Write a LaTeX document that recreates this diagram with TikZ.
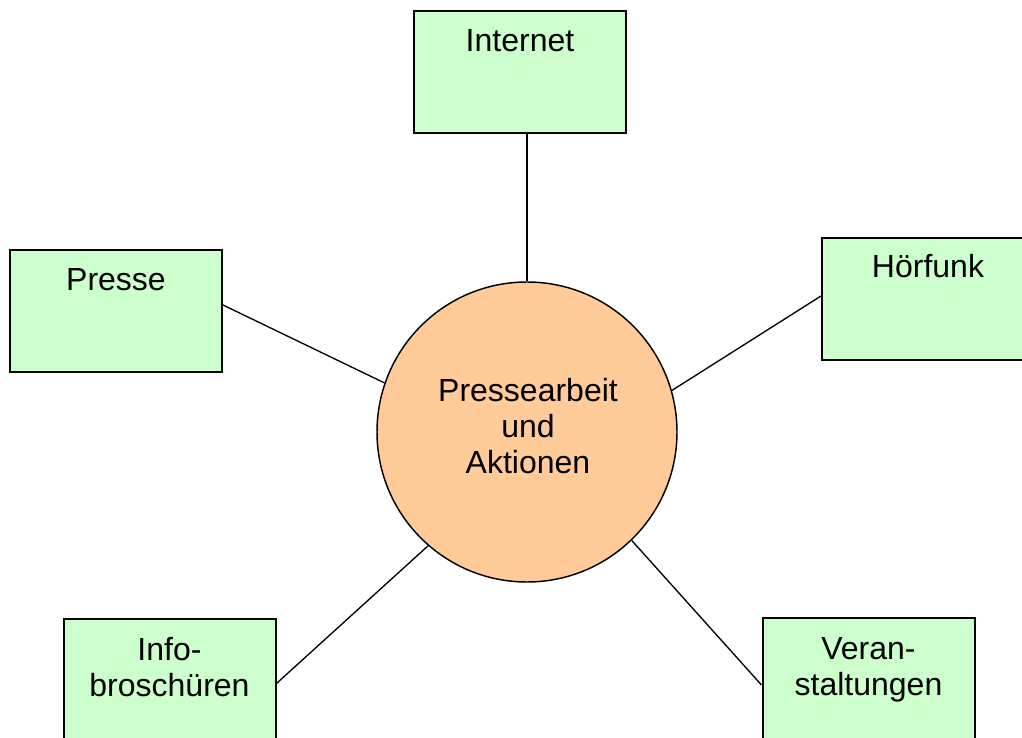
\documentclass[tikz,border=0pt]{standalone}
\usepackage{fontspec}
\setmainfont{Liberation Sans}

\tikzset{every picture/.style={line width=0.75pt}}
\tikzset{
	medium/.style={draw, line width=1.5pt, fill={rgb, 255:red, 204; green, 255; blue, 204}, minimum width=159pt, minimum height=91.5pt, inner sep=0pt},
	centre/.style={circle, draw, line width=1.1pt, fill={rgb, 255:red, 255; green, 204; blue, 153}, minimum size=225pt, inner sep=0pt},
	caption/.style={anchor=north, inner sep=0pt, align=center, font=\fontsize{24}{27}\selectfont},
	link/.style={line width=1pt}
}

\begin{document}
\begin{tikzpicture}[x=0.75pt,y=0.75pt,yscale=-1,xscale=1]
	\clip (0,0) rectangle (1022,738);
	
	%Circle: Pressearbeit
	\node [centre] (pa) at (527,432) {};
	%Boxes
	\node [medium] (internet) at (520,72.5) {};
	\node [medium] (presse) at (116,311) {};
	\node [medium] (hoerfunk) at (928,299) {};
	\node [medium] (info) at (169.5,680) {};
	\node [medium] (veran) at (868.5,679) {};
	
	%Lines
	\draw [link] (pa.north) -- (pa.north |- internet.south) ;
	\draw [link] (pa.161) -- ([yshift=-4.5pt]presse.east) ;
	\draw [link] (pa.16) -- ([yshift=-2.25pt]hoerfunk.west) ;
	\draw [link] (pa.229) -- ([yshift=2.6pt]info.east) ;
	\draw [link] (pa.314) -- ([yshift=4.5pt]veran.west) ;
	
	\node [caption] (pa-t) at (528,378) {Pressearbeit\\und\\Aktionen};
	\node [caption] (internet-t) at (520,29) {Internet};
	\node [caption] (presse-t) at (116,268) {Presse};
	\node [caption] (hoerfunk-t) at (928,254) {Hörfunk};
	\node [caption] (info-t) at (169.5,637) {Info-\\broschüren};
	\node [caption] (veran-t) at (868.5,637) {Veran-\\staltungen};
	
\end{tikzpicture}
\end{document}
